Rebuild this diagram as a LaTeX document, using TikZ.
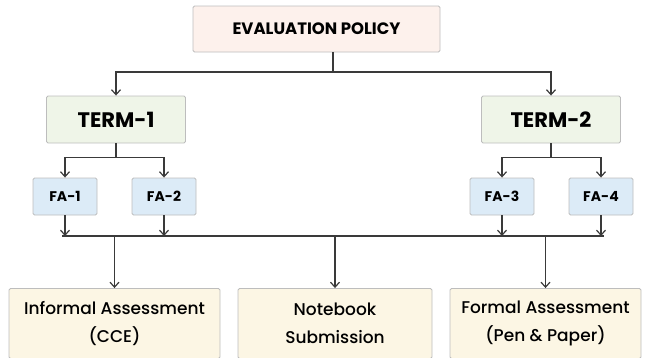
\documentclass[tikz,border=0pt]{standalone}
\usepackage{fontspec}
\setmainfont{Poppins}
\newfontfamily\medfont{Poppins Medium}
\usetikzlibrary{calc, arrows.meta}

\definecolor{policyfill}{HTML}{FDF1EC}
\definecolor{termfill}{HTML}{EFF5E8}
\definecolor{fafill}{HTML}{DCEBF7}
\definecolor{outfill}{HTML}{FCF6E4}
\definecolor{boxline}{HTML}{BDBDBD}
\definecolor{arrowline}{HTML}{3A3A3A}

\begin{document}
\begin{tikzpicture}[>={Straight Barb[length=5pt, width=9pt]}, x=1pt, y=-1pt]
            \tikzset{
                box/.style={draw=boxline, line width=0.9pt, rounded corners=1.5pt, inner sep=0pt, align=center},
                policybox/.style={box, fill=policyfill, minimum width=247pt, minimum height=46pt, font=\fontsize{16.5}{18}\selectfont\bfseries},
                termbox/.style={box, fill=termfill, minimum width=139pt, minimum height=47pt, font=\fontsize{21}{24}\selectfont\bfseries},
                fabox/.style={box, fill=fafill, minimum width=64pt, minimum height=37pt, font=\fontsize{14}{16}\selectfont\bfseries},
                outbox/.style={box, fill=outfill, minimum height=70pt, font=\fontsize{17}{28}\selectfont\medfont},
                link/.style={draw=arrowline, line width=1.2pt}
            };
            \useasboundingbox (0, 0) rectangle (645, 357);
            % boxes
            \node[policybox] (policy) at (316.5, 29) {EVALUATION POLICY};
            \node[termbox] (term1) at (116, 119.5) {TERM-1};
            \node[termbox] (term2) at (551, 119.5) {TERM-2};
            \node[fabox] (fa1) at (65, 196.5) {FA-1};
            \node[fabox] (fa2) at (164, 196.5) {FA-2};
            \node[fabox] (fa3) at (502, 196.5) {FA-3};
            \node[fabox] (fa4) at (601, 196.5) {FA-4};
            \node[outbox, minimum width=211pt] (informal) at (114.5, 323.5) {Informal Assessment\\(CCE)};
            \node[outbox, minimum width=194pt] (notebook) at (335, 323.5) {Notebook\\Submission};
            \node[outbox, minimum width=191pt] (formal) at (545.5, 323.5) {Formal Assessment\\(Pen \& Paper)};
            % junctions
            \coordinate (top) at (333, 72);
            \coordinate (split1) at ($(term1.south)+(0, 14)$);
            \coordinate (split2) at ($(term2.south)+(0, 14)$);
            \coordinate (busL) at (62, 236);
            \coordinate (busR) at (604, 236);
            % connectors
            \path[link]
                (policy.south -| top) -- (top)
                (term1.south) -- (split1)
                (term2.south) -- (split2)
                (busL) -- (busR)
            ;
            \draw[link, ->] (top) -| (term1);
            \draw[link, ->] (top) -| (term2);
            \draw[link, ->] (split1) -| (fa1);
            \draw[link, ->] (split1) -| (fa2);
            \draw[link, ->] (split2) -| (fa3);
            \draw[link, ->] (split2) -| (fa4);
            \foreach \fa in {fa1, fa2, fa3, fa4}
                \draw[link, ->] (\fa) -- (\fa |- busL);
            \foreach \out in {informal, notebook, formal}
                \draw[link, ->] (\out |- busL) -- (\out);
        \end{tikzpicture}
\end{document}
